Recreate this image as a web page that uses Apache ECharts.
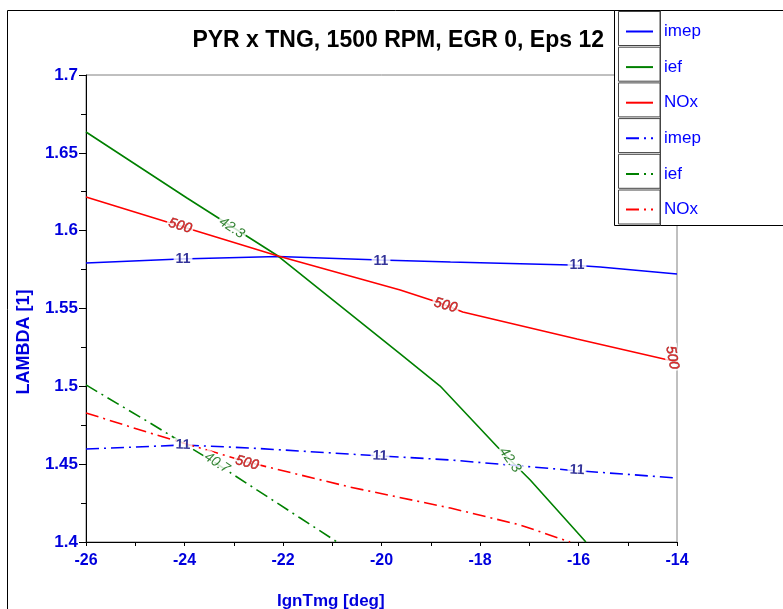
<!DOCTYPE html>
<html>
<head>
<meta charset="utf-8">
<script src="https://cdn.jsdelivr.net/npm/echarts@6/dist/echarts.min.js"></script>
<style>
html,body{margin:0;padding:0;background:#fff;}
#chart{width:783px;height:609px;}
</style>
</head>
<body>
<div id="chart"></div>
<script>
// ---- data ----
const titleText = 'PYR x TNG, 1500 RPM, EGR 0, Eps 12';
const xName = 'IgnTmg [deg]';
const yName = 'LAMBDA [1]';
const legendNames = ['imep', 'ief', 'NOx', 'imep', 'ief', 'NOx'];

const imepSolidX = [-26, -24.09, -22.1, -20.03, -18.6, -16.17, -15.56, -14];
const imepSolidY = [1.5792, 1.5818, 1.5834, 1.5812, 1.5799, 1.5779, 1.5767, 1.5722];
const iefSolidX = [-26, -23.95, -22.1, -19.62, -18.81, -17.53, -16.98, -15.85];
const iefSolidY = [1.6634, 1.621, 1.5837, 1.5208, 1.5002, 1.4572, 1.4398, 1.4];
const noxSolidX = [-26, -24.09, -22.1, -19.62, -18.81, -18.35, -16.03, -14];
const noxSolidY = [1.6216, 1.6030, 1.5837, 1.5619, 1.5535, 1.5478, 1.5304, 1.5156];

const imepDashX = [-26, -24.03, -22.67, -20.03, -18.6, -16.23, -14];
const imepDashY = [1.4597, 1.4623, 1.4604, 1.4553, 1.4527, 1.4463, 1.4411];
const iefDashX = [-26, -24.7, -23.34, -21.65, -20.9];
const iefDashY = [1.5009, 1.4765, 1.4501, 1.4154, 1.4];
const noxDashX = [-26, -24.7, -22.73, -20.64, -18.6, -17.19, -16.17];
const noxDashY = [1.4829, 1.4700, 1.4514, 1.4353, 1.4218, 1.411, 1.4];

// contour labels: x, lambda, text, rotation
const imepLabX = [-24.03, -20.01, -16.03, -24.03, -20.03, -16.03];
const imepLabY = [1.5818, 1.5805, 1.5780, 1.4623, 1.4553, 1.4463];
const imepLabT = ['11', '11', '11', '11', '11', '11'];
const imepLabR = [0, 0, 0, -2, -2, -3];
const iefLabX = [-23.04, -17.39, -23.34];
const iefLabY = [1.6017, 1.4527, 1.4508];
const iefLabT = ['42.3', '42.3', '40.7'];
const iefLabR = [-33, -55, -33];
const noxLabX = [-24.09, -18.7, -14.1, -22.73];
const noxLabY = [1.6030, 1.5520, 1.5185, 1.4508];
const noxLabT = ['500', '500', '500', '500'];
const noxLabR = [-17, -15, -80, -15];

// ---- build ----
const zip = (xs, ys) => xs.map((x, i) => [x, ys[i]]);
const BLUE = '#0000ff', GREEN = '#008000', RED = '#ff0000';
const DASHDOT = [13, 5, 2, 5];
const TXT = '#0000dd';
const FONT = '"Liberation Sans", Arial, sans-serif';

function lineSeries(name, data, color, dashed) {
  return {
    name: name, type: 'line', data: data, symbol: 'none', smooth: false,
    lineStyle: { color: color, width: 1.6, type: dashed ? DASHDOT : 'solid' },
    itemStyle: { color: color },
    emphasis: { disabled: true }, z: 2
  };
}
function labelSeries(xs, ys, ts, rs, style) {
  return {
    type: 'scatter', symbolSize: 0, z: 5, silent: true,
    data: xs.map((x, i) => ({
      value: [x, ys[i]],
      label: {
        show: true, position: 'inside', formatter: ts[i], rotate: rs[i],
        backgroundColor: '#ffffff', padding: [0, 2],
        fontFamily: FONT, fontSize: 14,
        color: style.color, fontWeight: style.weight, fontStyle: style.italic ? 'italic' : 'normal',
        textBorderColor: style.border || 'transparent', textBorderWidth: style.border ? 0.5 : 0
      }
    }))
  };
}

const names = ['imep', 'ief', 'NOx', 'imep ', 'ief ', 'NOx '];

const graphics = [
  { type: 'line', shape: { x1: 7.5, y1: 10.5, x2: 783, y2: 10.5 }, style: { stroke: '#000', lineWidth: 1 }, z: 1 },
  { type: 'line', shape: { x1: 7.5, y1: 10.5, x2: 7.5, y2: 609 }, style: { stroke: '#000', lineWidth: 1 }, z: 1 },
  { type: 'rect', shape: { x: 614.5, y: 10.5, width: 200, height: 215 }, style: { fill: '#fff', stroke: '#000', lineWidth: 1 }, z: 10 }
];
for (let i = 0; i < 6; i++) {
  graphics.push({ type: 'rect', shape: { x: 618.5, y: 11.5 + i * 35.7, width: 41.5, height: 34 },
    style: { fill: '#fff', stroke: '#444', lineWidth: 1 }, z: 11 });
}
graphics.push({ type: 'line', shape: { x1: 660.5, y1: 10.5, x2: 660.5, y2: 225.5 }, style: { stroke: '#444', lineWidth: 1 }, z: 11 });
graphics.push({ type: 'text', z: 12, style: { text: titleText, x: 604, y: 41, align: 'right', verticalAlign: 'middle',
  font: 'bold 23px ' + FONT, fill: '#000' } });
graphics.push({ type: 'text', z: 12, style: { text: xName, x: 277, y: 601, align: 'left', verticalAlign: 'middle',
  font: 'bold 17px ' + FONT, fill: TXT } });
graphics.push({ type: 'text', z: 12, x: 24, y: 342, rotation: Math.PI / 2, style: { text: yName, x: 0, y: 0, align: 'center', verticalAlign: 'middle',
  font: 'bold 18px ' + FONT, fill: TXT } });

const option = {
  animation: false,
  backgroundColor: '#fff',
  grid: { left: 86, top: 75, right: 106, bottom: 67, show: true, borderColor: '#808080', borderWidth: 1, backgroundColor: '#fff' },
  xAxis: {
    type: 'value', min: -26, max: -14, interval: 2,
    axisLine: { show: true, onZero: false, lineStyle: { color: '#000', width: 1 } },
    axisTick: { show: true, inside: false, length: 4, lineStyle: { color: '#000' } },
    minorTick: { show: true, splitNumber: 2, length: 4, lineStyle: { color: '#000' } },
    splitLine: { show: false },
    axisLabel: { margin: 11, color: TXT, fontWeight: 'bold', fontSize: 16, fontFamily: FONT }
  },
  yAxis: {
    type: 'value', min: 1.4, max: 1.7, interval: 0.05,
    axisLine: { show: true, onZero: false, lineStyle: { color: '#000', width: 1 } },
    axisTick: { show: true, inside: false, length: 7, lineStyle: { color: '#000' } },
    minorTick: { show: true, splitNumber: 2, length: 5, lineStyle: { color: '#000' } },
    splitLine: { show: false },
    axisLabel: { margin: 8, color: TXT, fontWeight: 'bold', fontSize: 17, fontFamily: FONT,
      formatter: v => String(parseFloat(v.toFixed(3))) }
  },
  legend: {
    orient: 'vertical', left: 620, top: 18, itemWidth: 27, itemHeight: 14, itemGap: 18.6,
    data: names, z: 20, selectedMode: false,
    itemStyle: { color: 'rgba(0,0,0,0)', borderColor: 'rgba(0,0,0,0)', borderWidth: 0, opacity: 0 },
    textStyle: { color: '#0000ff', fontSize: 17, fontFamily: FONT, padding: [0, 0, 0, 6] },
    formatter: n => legendNames[names.indexOf(n)]
  },
  graphic: graphics,
  series: [
    lineSeries(names[0], zip(imepSolidX, imepSolidY), BLUE, false),
    lineSeries(names[1], zip(iefSolidX, iefSolidY), GREEN, false),
    lineSeries(names[2], zip(noxSolidX, noxSolidY), RED, false),
    lineSeries(names[3], zip(imepDashX, imepDashY), BLUE, true),
    lineSeries(names[4], zip(iefDashX, iefDashY), GREEN, true),
    lineSeries(names[5], zip(noxDashX, noxDashY), RED, true),
    labelSeries(imepLabX, imepLabY, imepLabT, imepLabR, { color: '#000080', weight: 'bold' }),
    labelSeries(iefLabX, iefLabY, iefLabT, iefLabR, { color: '#006400', weight: 'normal', italic: true }),
    labelSeries(noxLabX, noxLabY, noxLabT, noxLabR, { color: '#e00000', weight: 'normal', italic: true, border: '#600000' })
  ]
};
const chart = echarts.init(document.getElementById('chart'), null, { renderer: 'canvas' });
chart.setOption(option);
</script>
</body>
</html>
